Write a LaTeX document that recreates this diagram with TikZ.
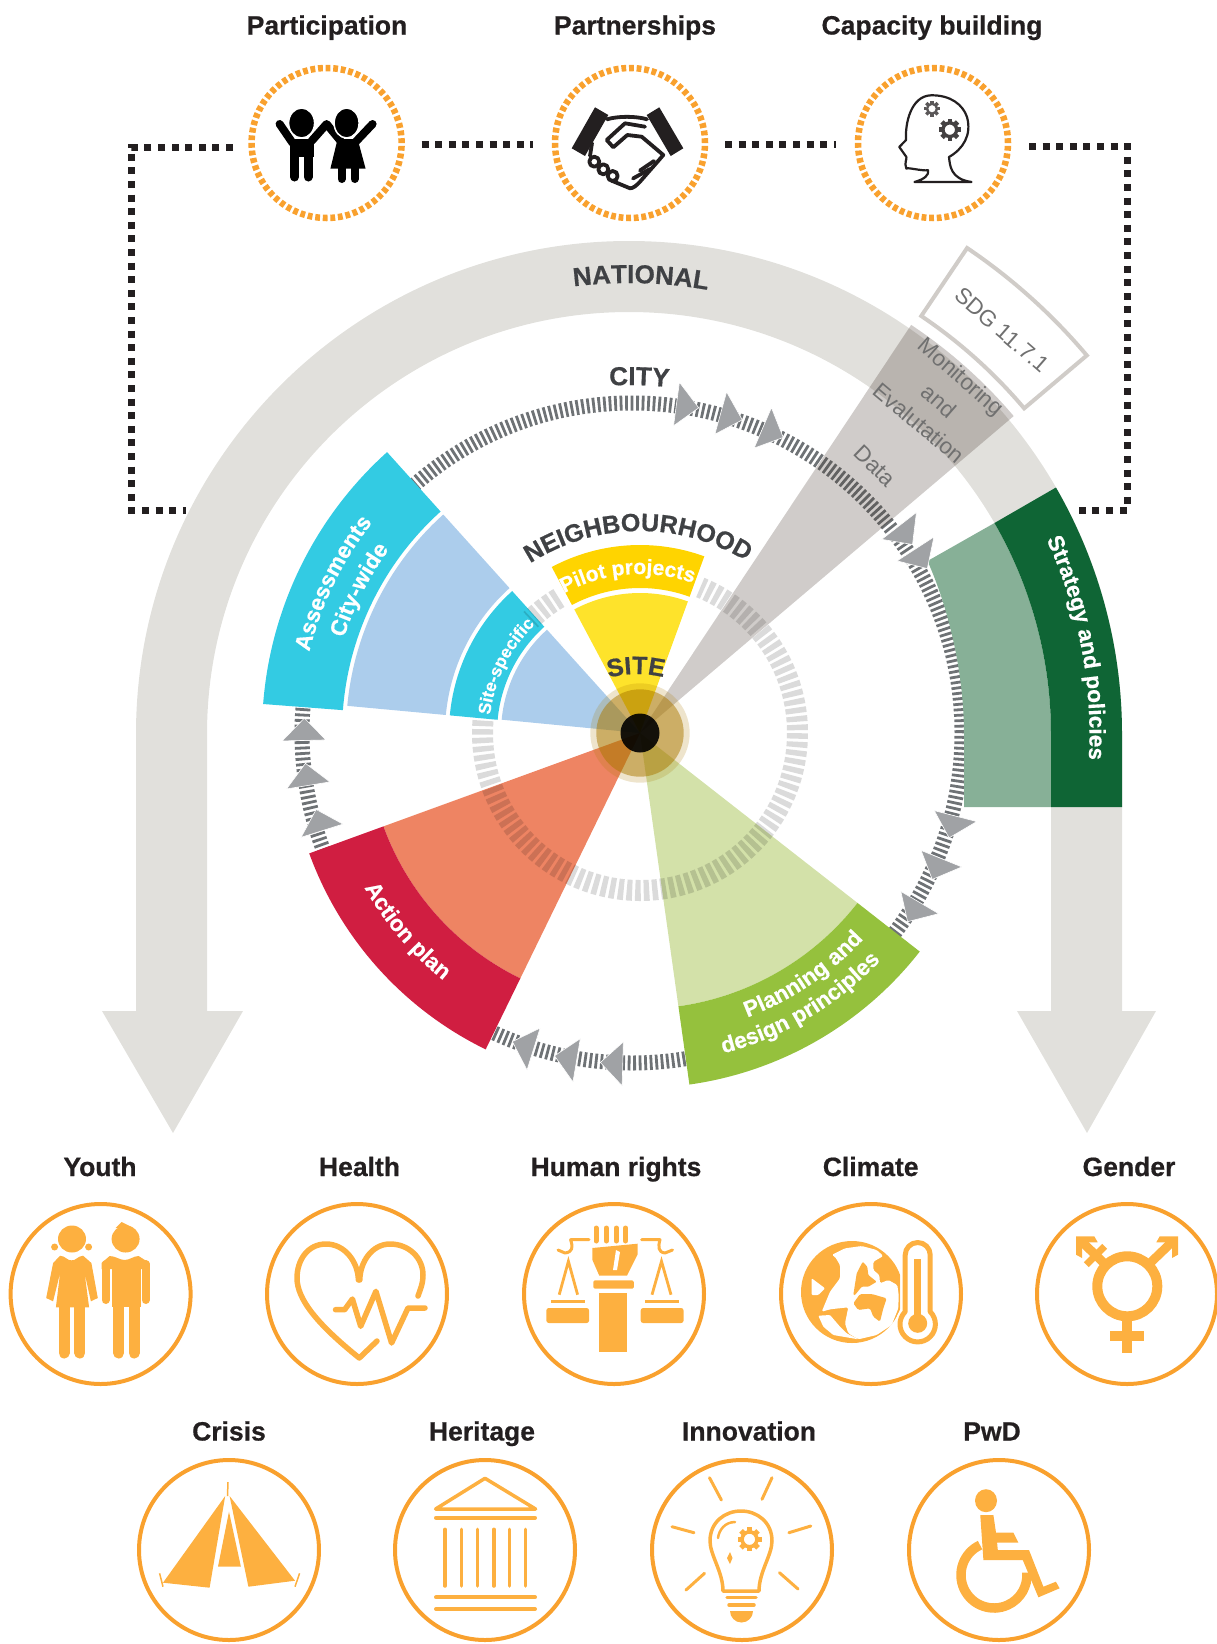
\documentclass[tikz,border=0pt]{standalone}
\usepackage{fontspec}
\setmainfont{Liberation Sans}[BoldFeatures={FakeBold=0.6}]
\usetikzlibrary{decorations.text}
\newcommand\fs[1]{\fontsize{#1}{#1}\selectfont}
\definecolor{archgrey}{HTML}{E1E0DC}
\definecolor{darkgreen}{HTML}{0F6535}
\definecolor{midgreen}{HTML}{87B097}
\definecolor{cyanband}{HTML}{33CBE3}
\definecolor{lightblue}{HTML}{ACCDEC}
\definecolor{redband}{HTML}{D01E41}
\definecolor{lightred}{HTML}{EE8463}
\definecolor{greenband}{HTML}{95C13D}
\definecolor{lightgreen}{HTML}{D3E1A9}
\definecolor{pilotyellow}{HTML}{FFD400}
\definecolor{siteyellow}{HTML}{FEE32B}
\definecolor{wedgebrown}{HTML}{42332A}
\definecolor{sdgline}{HTML}{D0CCC8}
\definecolor{citytick}{HTML}{6E7275}
\definecolor{arrowgrey}{HTML}{A0A2A5}
\definecolor{inkdark}{HTML}{231F20}
\definecolor{levelgrey}{HTML}{3F4144}
\definecolor{thingrey}{HTML}{707070}
\definecolor{ringorange}{HTML}{F9A12E}
\definecolor{iconorange}{HTML}{FDB040}
\definecolor{gold}{HTML}{AA7800}
\tikzset{
  x=1pt,y=1pt,
  topring/.style={circle,draw=ringorange,line width=6.5pt,dash pattern=on 4.8pt off 2.8pt,minimum size=150pt,inner sep=0pt,outer sep=0pt},
  iconring/.style={circle,draw=ringorange,line width=4pt,minimum size=180pt,inner sep=0pt,outer sep=0pt},
  iconlabel/.style={font=\bfseries\fs{26.5},text=inkdark,anchor=base,inner sep=0pt},
  dotline/.style={draw=inkdark,line width=7pt,dash pattern=on 7pt off 6.6pt},
  thinlabel/.style={font=\fs{22.5},text=thingrey,inner sep=0pt},
  icl/.style={draw=iconorange,line cap=round,line join=round},
}
% text on a clockwise arc: cx cy angle r format text
\newcommand\arccw[6]{\path[decorate,decoration={text along path,text align=center,text={|#5|#6}}]
  ({#1+#4*cos(#3+40)},{-#2+#4*sin(#3+40)}) arc[start angle=#3+40,end angle=#3-40,radius=#4];}
% text on a counter-clockwise arc
\newcommand\arcccw[6]{\path[decorate,decoration={text along path,text align=center,text={|#5|#6}}]
  ({#1+#4*cos(#3-40)},{-#2+#4*sin(#3-40)}) arc[start angle=#3-40,end angle=#3+40,radius=#4];}
% annular sector: a1 a2 r1 r2 (about the current origin)
\newcommand\secpath[4]{(#1:#3) arc[start angle=#1,end angle=#2,radius=#3] -- (#2:#4) arc[start angle=#2,end angle=#1,radius=#4] -- cycle}
% arrowhead: tip angle, radius
\newcommand\flowtri[2]{\fill[arrowgrey,draw=white,line width=.6pt] (#1:#2) -- (#1+3.9:#2+22) -- (#1+3.9:#2-22) -- cycle;}
% gear: x y r colour
\newcommand\gearicon[4]{\begin{scope}[shift={(#1,#2)}]
  \foreach \ga in {0,45,...,315}{\draw[#4,line width=#3*.42pt] (\ga:#3*.7) -- (\ga:#3);}
  \draw[#4,line width=#3*.3pt] (0,0) circle[radius=#3*.62];
\end{scope}}
\begin{document}
\begin{tikzpicture}
\useasboundingbox (0,0) rectangle (1217,-1644);
% ---------- arch
\fill[archgrey] (136,-1011) -- (136,-734) arc[start angle=180,end angle=0,radius=493] -- (1122,-1011) -- (1156,-1011) -- (1087,-1133) -- (1017,-1011) -- (1051,-1011) -- (1051,-734) arc[start angle=0,end angle=180,radius=422] -- (207,-1011) -- (243,-1011) -- (173,-1133) -- (102,-1011) -- cycle;
% ---------- city ring
\begin{scope}[shift={(632,-733)}]
  \draw[citytick,line width=15pt,dash pattern=on 2.8pt off 2.7pt] (0,0) circle[radius=330];
\end{scope}
% ---------- strategy bands
\begin{scope}[shift={(629,-734)}]
  \fill[midgreen] (298.5,173) .. controls (320,125) and (335,60) .. (335,0) -- (335,-73) -- (422,-73) -- (422,0) arc[start angle=0,end angle=30,radius=422] -- cycle;
  \fill[darkgreen] (30:422) arc[start angle=30,end angle=0,radius=422] -- (422,-73) -- (493,-73) -- (493,0) arc[start angle=0,end angle=30,radius=493] -- cycle;
\end{scope}
% ---------- sectors
\begin{scope}[shift={(640,-733)}]
  \fill[lightblue] (0,0) -- (132:139) arc[start angle=132,end angle=174.5,radius=139] -- cycle;
  \fill[cyanband] \secpath{132}{174.7}{143}{191};
  \fill[lightblue] \secpath{132}{174.7}{195}{294};
  \fill[cyanband] \secpath{132}{175.6}{298}{378};
  \fill[lightgreen] (0,0) -- (-82:276) arc[start angle=-82,end angle=-38,radius=276] -- cycle;
  \fill[greenband] \secpath{-82}{-38}{276}{355};
  \fill[lightred] (0,0) -- (200:273) arc[start angle=200,end angle=244,radius=273] -- cycle;
  \fill[redband] \secpath{200}{244}{273}{352};
  \fill[siteyellow] (0,0) -- (70:140) arc[start angle=70,end angle=118,radius=140] -- cycle;
  \fill[pilotyellow] \secpath{70}{118}{145}{188};
  % neighbourhood ring
  \draw[black,opacity=.14,line width=21pt,dash pattern=on 5.5pt off 3pt] (175.5:157.5) arc[start angle=175.5,end angle=427.5,radius=157.5];
  \draw[black,opacity=.14,line width=21pt,dash pattern=on 5.5pt off 3pt] (121:157.5) arc[start angle=121,end angle=134,radius=157.5];
  % monitoring wedge
  \fill[wedgebrown,opacity=.25] (0,0) -- (40.3:490) arc[start angle=40.3,end angle=56.4,radius=490] -- cycle;
  % SDG box
  \draw[sdgline,line width=4pt,line join=miter] \secpath{40.2}{56}{503}{585};
  % centre
  \fill[gold,opacity=.2] (0,0) circle[radius=49.7];
  \fill[gold,opacity=.5] (0,0) circle[radius=43.7];
  \fill[black,opacity=.9] (0,0) circle[radius=19.5];
\end{scope}
% ---------- flow arrowheads on the city ring
\begin{scope}[shift={(632,-733)}]
  \flowtri{78.4}{332}\flowtri{70.6}{332}\flowtri{62.9}{332}
  \flowtri{33.9}{338}\flowtri{29.1}{338}
  \flowtri{-18.3}{334}\flowtri{-26}{334}\flowtri{-34.4}{334}
  \flowtri{-95.5}{331}\flowtri{-103.5}{332}\flowtri{-111.2}{331}
  \flowtri{177.4}{328}\flowtri{185.3}{328}\flowtri{193.6}{325}
\end{scope}
% ---------- curved texts
\arccw{629}{734}{88.5}{451}{\bfseries\fs{26}\color{levelgrey}}{NATIONAL}
\arccw{630}{733}{88.5}{348}{\bfseries\fs{26}\color{levelgrey}}{CITY}
\arccw{640}{733}{90.6}{202}{\bfseries\fs{25}\color{levelgrey}}{NEIGHBOURHOOD}
\arccw{637}{784}{90.5}{110}{\bfseries\fs{25}\color{levelgrey}}{SITE}
\arccw{640}{733}{94.5}{159}{\bfseries\fs{21}\color{white}}{Pilot projects}
\arccw{640}{733}{154}{340.5}{\bfseries\fs{22.5}\color{white}}{Assessments}
\arccw{640}{733}{153}{311}{\bfseries\fs{22.5}\color{white}}{City-wide}
\arccw{640}{733}{153.6}{151}{\bfseries\fs{17.5}\color{white}}{Site-specific}
\arccw{629}{734}{10.9}{460.5}{\bfseries\fs{22.5}\color{white}}{Strategy and policies}
\arcccw{640}{733}{220.4}{316}{\bfseries\fs{22.5}\color{white}}{Action plan}
\arcccw{640}{733}{-56}{304}{\bfseries\fs{22.5}\color{white}}{Planning and}
\arcccw{640}{733}{-59.4}{331}{\bfseries\fs{22.5}\color{white}}{design principles}
% ---------- straight thin texts
\node[thinlabel,rotate=-41] (sdgtext) at (1002,-330) {SDG 11.7.1};
\node[thinlabel,rotate=-41] (montext) at (960,-378) {Monitoring};
\node[thinlabel,rotate=-41] (andtext) at (939,-401) {and};
\node[thinlabel,rotate=-40] (evatext) at (919,-423) {Evalutation};
\node[thinlabel,rotate=-44] (datatext) at (875,-466) {Data};
% ---------- top row
\node[topring] (partA) at (326.6,-143) {};
\node[topring] (partB) at (630,-143) {};
\node[topring] (partC) at (933,-143) {};
\node[iconlabel] (labA) at (327,-34.5) {Participation};
\node[iconlabel] (labB) at (635,-34.5) {Partnerships};
\node[iconlabel] (labC) at (932,-34.5) {Capacity building};
\draw[dotline,shorten <=20pt,shorten >=22pt] ([yshift=-1pt]partA.east) -- ([yshift=-1pt]partB.west);
\draw[dotline,shorten <=20pt,shorten >=22pt] ([yshift=-1pt]partB.east) -- ([yshift=-1pt]partC.west);
\coordinate (lA) at (233,-147); \coordinate (lB) at (131,-147); \coordinate (lC) at (131,-510); \coordinate (lD) at (186,-510);
\coordinate (rA) at (1029,-146); \coordinate (rB) at (1127,-146); \coordinate (rC) at (1127,-510); \coordinate (rD) at (1078,-510);
\draw[dotline] (lA) -- (lB) -- (lC) -- (lD);
\draw[dotline] (rA) -- (rB) -- (rC) -- (rD);
% participation icon
\begin{scope}[shift={(326.6,-143)}]
  \fill[black] (-37,4) -- (-12.5,4) -- (-12.5,-14) -- (-37,-14) -- cycle;
  \draw[black,line width=9pt,line cap=round] (-32,-10) -- (-32,-34);
  \draw[black,line width=9pt,line cap=round] (-18.5,-10) -- (-18.5,-34);
  \draw[black,line width=8pt,line cap=round,line join=round] (-47,19) -- (-34,0);
  \draw[black,line width=8pt,line cap=round,line join=round] (-15,2) -- (0,19) -- (14,2);
  \draw[black,line width=8pt,line cap=round,line join=round] (28,0) -- (46,19);
  \fill[black] (11,4) -- (31,4) -- (39,-25.7) -- (3.8,-25.7) -- cycle;
  \draw[black,line width=8pt,line cap=round] (15,-25) -- (15,-36);
  \draw[black,line width=8pt,line cap=round] (28,-25) -- (28,-36);
  \fill[black,draw=white,line width=1.5pt] (-25,20) ellipse[x radius=13,y radius=15];
  \fill[black,draw=white,line width=1.5pt] (20,20) ellipse[x radius=12.5,y radius=15];
\end{scope}
% handshake icon
\begin{scope}[shift={(630,-143)}]
  \begin{scope}[draw=inkdark,line width=3.8pt,line cap=round,line join=round]
    \draw (-23,23.7) .. controls (-12,27) and (6,27) .. (17,23.7);
    \draw (15,16.3) -- (-5,19.7) -- (-23.3,3) -- (-16.7,-4.3) -- (-2.7,8) -- (11.7,6.3) -- (33.3,-12) -- (29,-17) -- (10,-38.7) .. controls (6,-43) and (3,-45.3) .. (0,-45.3) -- (-18.3,-37.7);
    \draw (-38,0) -- (-40,-13);
    \draw (10,-27.5) -- (24,-18);
    \draw (3,-35.5) -- (20,-26);
    \draw (-35.7,-18.7) circle[radius=5];
    \draw (-26.7,-26.3) circle[radius=5];
    \draw (-17.3,-33) circle[radius=5];
  \end{scope}
  \fill[inkdark] (-35,35.7) -- (-21.7,28) -- (-45,-13) -- (-58.3,-5.3) -- cycle;
  \fill[inkdark] (29.3,35.7) -- (16.7,28) -- (40.7,-13) -- (53.3,-5.3) -- cycle;
\end{scope}
% head icon
\begin{scope}[shift={(933,-143)}]
  \draw[inkdark,line width=2.2pt,line join=round] (-18.5,-39) .. controls (-8,-36) and (-4,-32) .. (-4.9,-27.3) .. controls (-12,-28) and (-26,-24) .. (-26.6,-25.7) .. controls (-29,-20) and (-26,-16) .. (-26.6,-14) -- (-33.7,-4) -- (-27,3) .. controls (-28,20) and (-22,47) .. (-2,47.7) .. controls (18,48) and (30,38) .. (34,26) .. controls (39,8) and (30,-6) .. (16,-14) .. controls (17,-22) and (17,-36) .. (38.5,-39) -- cycle;
  \gearicon{-1}{34.3}{8}{inkdark!75}
  \gearicon{16.8}{13.3}{11}{inkdark!85}
\end{scope}
% ---------- bottom row 1
\node[iconring] (cYouth) at (100.6,-1294) {};
\node[iconring] (cHealth) at (357,-1294) {};
\node[iconring] (cRights) at (614,-1294) {};
\node[iconring] (cClimate) at (871,-1294) {};
\node[iconring] (cGender) at (1127,-1294) {};
\node[iconlabel] (lYouth) at (100,-1176) {Youth};
\node[iconlabel] (lHealth) at (359.5,-1176) {Health};
\node[iconlabel] (lRights) at (616,-1176) {Human rights};
\node[iconlabel] (lClimate) at (870.7,-1176) {Climate};
\node[iconlabel] (lGender) at (1129,-1176) {Gender};
% ---------- bottom row 2
\node[iconring] (cCrisis) at (229,-1550) {};
\node[iconring] (cHeritage) at (485,-1550) {};
\node[iconring] (cInno) at (742,-1550) {};
\node[iconring] (cPwd) at (999,-1550) {};
\node[iconlabel] (lCrisis) at (229,-1440.5) {Crisis};
\node[iconlabel] (lHeritage) at (482,-1440.5) {Heritage};
\node[iconlabel] (lInno) at (749,-1440.5) {Innovation};
\node[iconlabel] (lPwd) at (992,-1440.5) {PwD};
% youth
\begin{scope}[shift={(100.6,-1294)}]
  \fill[iconorange] (-28.6,55) ellipse[x radius=14,y radius=13.5];
  \fill[iconorange] (-46,47) circle[radius=3.5];
  \fill[iconorange] (-12,47) circle[radius=3.5];
  \fill[iconorange] (-47.5,31) -- (-40.5,38.3) .. controls (-35,38) and (-33,33) .. (-29,33.7) .. controls (-25,33) and (-23,38) .. (-17.5,38.3) -- (-9.2,31) -- (-2.8,-4) -- (-9.7,-7.3) -- (-16,21) -- (-11.5,-13.3) -- (-44.7,-13.3) -- (-40.5,21) -- (-47.5,-7.3) -- (-54.4,-4) -- cycle;
  \draw[iconorange,line width=11pt,line cap=round] (-36.6,-13) -- (-36.6,-59);
  \draw[iconorange,line width=11pt,line cap=round] (-20.7,-13) -- (-20.7,-59);
  \fill[iconorange] (25,55) ellipse[x radius=14,y radius=13.5];
  \fill[iconorange] (15,66) -- (21,72) -- (33,66) -- cycle;
  \fill[iconorange] (1,31) -- (9,38) .. controls (15,38) and (19,34) .. (24,34) .. controls (29,34) and (33,38) .. (38,38) -- (49,31) -- (49,25) -- (1,25) -- cycle;
  \fill[iconorange] (11.5,30) rectangle (40,-13);
  \draw[iconorange,line width=8pt,line cap=round] (5,30) -- (5,-6);
  \draw[iconorange,line width=8pt,line cap=round] (45,30) -- (45,-6);
  \draw[iconorange,line width=11pt,line cap=round] (18,-13) -- (18,-59);
  \draw[iconorange,line width=11pt,line cap=round] (33.5,-13) -- (33.5,-59);
\end{scope}
% health
\begin{scope}[shift={(357,-1294)}]
  \draw[icl,line width=5.5pt] (1.4,14) .. controls (1,32) and (-12,50) .. (-31,50) .. controls (-50,50) and (-60,33) .. (-60,16) .. controls (-60,-5) and (-40,-30) .. (2.3,-64) -- (20,-47);
  \draw[icl,line width=5.5pt] (2.8,14) .. controls (3,32) and (15,50) .. (33,50) .. controls (52,50) and (66,36) .. (66,19) .. controls (66,10) and (63,4) .. (61,-2);
  \draw[icl,line width=5.5pt] (-21.5,-15.7) -- (-12.4,-15.7) -- (-4.6,-5) -- (3.7,-32.3) -- (18.9,2.7) -- (34.6,-49) -- (51,-14) -- (68,-14);
\end{scope}
% human rights
\begin{scope}[shift={(614,-1294)}]
  \foreach \fx in {-18,-7.8,2.3,11.5}{\draw[iconorange,line width=5pt,line cap=round] (\fx,66) -- (\fx,53);}
  \fill[iconorange] (-21.7,46) -- (23.5,50.3) -- (23.5,39.3) -- (13,18.3) -- (-14.7,18.3) -- (-21.7,34.3) -- cycle;
  \fill[white] (2,44) -- (6,42) -- (3,24) -- (-1,24) -- cycle;
  \fill[iconorange,rounded corners=1.5pt] (-20.7,13.7) rectangle (19.8,5.3);
  \fill[iconorange] (-14.7,1) rectangle (13,-58);
  \fill[iconorange] (-63,-5.7) rectangle (-28.6,-9);
  \fill[iconorange,rounded corners=2.5pt] (-67.7,-14) rectangle (-24.9,-29);
  \draw[iconorange,line width=2.8pt] (-54.8,-.7) -- (-45.6,32.7) -- (-36.4,-.7);
  \draw[icl,line width=3pt] (-25,54.3) -- (-43.4,54.3) .. controls (-41,47) and (-41,42) .. (-49,41) -- (-56,44);
  \fill[iconorange] (31,-5.7) rectangle (65,-9);
  \fill[iconorange,rounded corners=2.5pt] (26.7,-14) rectangle (69.6,-29);
  \draw[iconorange,line width=2.8pt] (38,-.7) -- (47.5,32.7) -- (57,-.7);
  \draw[icl,line width=3pt] (27.6,54.3) -- (46,54.3) .. controls (44,47) and (44,42) .. (51,41) -- (58.5,44);
\end{scope}
% climate
\begin{scope}[shift={(871,-1294)}]
  \begin{scope}
    \clip (-75,-60) rectangle (29,60);
    \fill[iconorange] (-19,2) circle[radius=51];
  \end{scope}
  \fill[white,rounded corners=1.5pt] (-39.3,39) -- (-26,45.7) -- (-9.3,48) -- (5.7,44) -- (12.3,38) -- (2.3,32.3) -- (2.3,24) -- (8.3,19) -- (9,10.7) -- (17.3,14) -- (26.3,9) -- (27.7,-1) -- (27.3,-14.3) -- (20.7,-31) -- (5.7,-41) -- (-12.7,-45.3) -- (-22.7,-39.3) -- (-26,-29.3) -- (-22.7,-13.3) -- (-41,-15.3) -- (-49.3,-17.7) -- (-41,2.3) -- (-31,15.7) -- (-31,29) -- (-36,37.3) -- cycle;
  \fill[white,rounded corners=1pt] (-52.7,-21.7) -- (-41,-21) -- (-31,-32.7) -- (-24.3,-39.3) -- (-12.7,-45.3) -- (-37.7,-41) -- (-47.7,-32.7) -- cycle;
  \fill[white,rounded corners=1pt] (-59.3,15.7) -- (-46,5.7) -- (-52.7,-1) -- (-59.3,-1) -- cycle;
  \fill[iconorange,rounded corners=1pt] (-17.7,-1) -- (-14.3,20.7) -- (-8.3,32.3) -- (-3.7,27.3) -- (-2.7,19) -- (5.7,12.3) -- (-2.7,7.3) -- (-9.3,7.3) -- (-16,-1) -- cycle;
  \fill[iconorange,rounded corners=1.5pt] (-17.7,-9.3) -- (-11,0) -- (.7,0) -- (15.7,-4.3) -- (12.3,-14.3) -- (9,-27.7) -- (2.3,-22.7) -- (-1,-14.3) -- (-12.7,-16) -- cycle;
  \draw[white,line width=9pt,line join=round,fill=white] (34.2,-17.7) -- (34.2,39) arc[start angle=180,end angle=0,radius=12.5] -- (59.2,-17.7) arc[start angle=45,end angle=-225,radius=17.7] -- cycle;
  \draw[iconorange,line width=5pt,line join=round] (34.2,-17.7) -- (34.2,39) arc[start angle=180,end angle=0,radius=12.5] -- (59.2,-17.7) arc[start angle=45,end angle=-225,radius=17.7] -- cycle;
  \draw[iconorange,line width=7.3pt] (46.7,34.7) -- (46.7,-25);
  \fill[iconorange] (46.7,-29.3) circle[radius=9.5];
\end{scope}
% gender
\begin{scope}[shift={(1127,-1294)}]
  \draw[iconorange,line width=10pt] (.3,7.7) circle[radius=30];
  \fill[iconorange] (-5,-27) rectangle (5,-59);
  \fill[iconorange] (-17,-37) rectangle (17,-47);
  \draw[iconorange,line width=9pt] (21,29) -- (46,53);
  \draw[iconorange,line width=9pt] (-21,29) -- (-46,53);
  \fill[iconorange] (51,57.7) -- (32.7,57.7) -- (29.3,51.7) -- (45,51.7) -- (45,36) -- (51,39.3) -- cycle;
  \fill[iconorange] (-51,57.7) -- (-32.7,57.7) -- (-29.3,51.7) -- (-45,51.7) -- (-45,36) -- (-51,39.3) -- cycle;
  \draw[iconorange,line width=7pt] (-40.7,29.3) -- (-22.3,47.7);
\end{scope}
% crisis
\begin{scope}[shift={(229,-1550)}]
  \fill[iconorange] (-3.8,54) -- (-66,-32.7) -- (-19.4,-37.7) -- cycle;
  \fill[iconorange] (.6,54) -- (66,-30.7) -- (19.4,-36.7) -- cycle;
  \fill[iconorange] (0,38.3) -- (-11,-16.7) -- (11.9,-16.7) -- cycle;
  \draw[iconorange,line width=1.5pt] (-1,68) -- (-1.5,54);
  \draw[iconorange,line width=1.5pt] (-69.4,-23.3) -- (-66,-36.7);
  \draw[iconorange,line width=1.5pt] (70.6,-23.3) -- (66,-36.7);
\end{scope}
% heritage
\begin{scope}[shift={(485,-1550)}]
  \draw[icl,line width=3.5pt] (0,71.7) -- (-49.4,41) -- (50.6,41) -- cycle;
  \draw[icl,line width=4pt] (-49,32.3) -- (50,32.3);
  \foreach \cx in {-40,-23.75,-7.5,8.75,24.4,40.6}{\draw[icl,line width=3.5pt] (\cx,20.7) -- (\cx,-36);}
  \draw[icl,line width=4pt] (-49,-47.3) -- (50,-47.3);
  \draw[icl,line width=4pt] (-49,-59) -- (50,-59);
\end{scope}
% innovation
\begin{scope}[shift={(742,-1550)}]
  \foreach \ra/\rb in {{-32.5,72.3}/{-20.6,50},{30,72.3}/{20,50.7},{-70,23.3}/{-48,17.3},{68.8,24}/{46.9,17.3},{-37.5,-23.3}/{-56,-40},{37.5,-22.7}/{56,-39}}{
    \draw[icl,line width=3pt] (\ra) -- (\rb);}
  \draw[icl,line width=3.5pt] (-19,-41) .. controls (-19,-22) and (-32,-5) .. (-32,9) .. controls (-32,28) and (-17,39) .. (-1,39) .. controls (15,39) and (30,28) .. (30,9) .. controls (30,-5) and (17,-22) .. (17,-41) -- cycle;
  \draw[icl,line width=3.5pt] (-15,-47.3) -- (14,-47.3);
  \draw[icl,line width=3.5pt] (-13,-55) -- (12,-55);
  \fill[iconorange] (-12,-61) -- (11,-61) arc[start angle=0,end angle=-180,radius=11.5] -- cycle;
  \gearicon{7.5}{10.7}{12}{iconorange}
  \draw[icl,line width=2.5pt] (-24,12) .. controls (-23,20) and (-17,28) .. (-7,28);
  \fill[iconorange] (-12,-2) -- (-9.5,-8) -- (-12,-14) -- (-15,-8) -- cycle;
\end{scope}
% PwD
\begin{scope}[shift={(999,-1550)}]
  \fill[iconorange] (-13,49.3) ellipse[x radius=11,y radius=11.5];
  \fill[iconorange] (-18.75,35) -- (-5.6,35) -- (-3,17.3) -- (14.4,17.3) -- (19.4,7.3) -- (-1.9,7.3) -- (-1.2,0) -- (30,0) -- (44.4,-36.7) -- (56.9,-31.7) -- (60.6,-38.3) -- (39.4,-47.3) -- (23.75,-10) -- (-15.6,-10) -- cycle;
  \draw[iconorange,line width=9.5pt] (-5,-25) ++(115:33) arc[start angle=115,end angle=364,radius=33];
\end{scope}
\end{tikzpicture}
\end{document}
